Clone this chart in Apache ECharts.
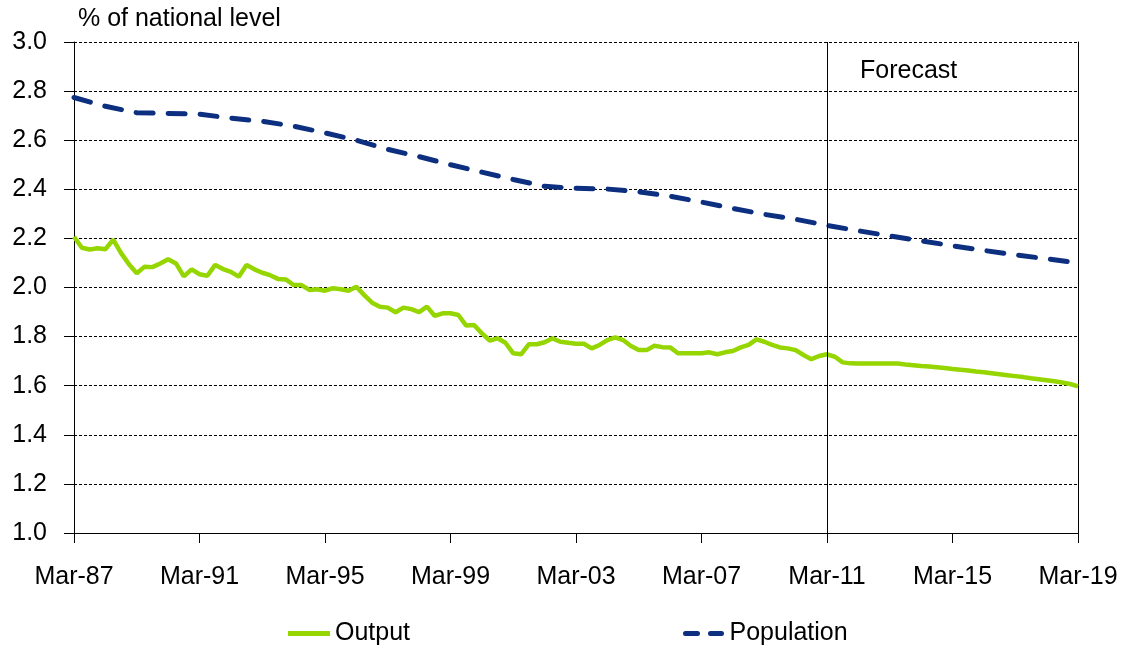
<!DOCTYPE html>
<html>
<head>
<meta charset="utf-8">
<script src="https://cdn.jsdelivr.net/npm/echarts@6/dist/echarts.min.js"></script>
<style>
  html, body { margin: 0; padding: 0; background: #fff; }
  #chart { width: 1130px; height: 648px; }
</style>
</head>
<body>
<div id="chart"></div>
<script>
// quarterly, Mar-87 .. Mar-19 (index 0..128)
var output = [
  2.207, 2.162, 2.155, 2.160, 2.156, 2.195, 2.140, 2.095, 2.058, 2.085,
  2.083, 2.098, 2.115, 2.098, 2.045, 2.074, 2.054, 2.048, 2.092, 2.075,
  2.064, 2.044, 2.092, 2.074, 2.060, 2.050, 2.035, 2.033, 2.010, 2.010,
  1.990, 1.993, 1.987, 1.997, 1.993, 1.987, 2.003, 1.969, 1.938, 1.922,
  1.918, 1.899, 1.918, 1.912, 1.900, 1.922, 1.884, 1.895, 1.895, 1.888,
  1.845, 1.847, 1.813, 1.784, 1.793, 1.775, 1.732, 1.728, 1.769, 1.769,
  1.777, 1.793, 1.779, 1.775, 1.771, 1.771, 1.752, 1.766, 1.786, 1.797,
  1.786, 1.762, 1.745, 1.745, 1.763, 1.757, 1.756, 1.732, 1.732, 1.732,
  1.732, 1.736, 1.728, 1.736, 1.741, 1.756, 1.766, 1.789, 1.779, 1.766,
  1.756, 1.752, 1.745, 1.725, 1.708, 1.721, 1.728, 1.718, 1.695, 1.691,
  1.690, 1.690, 1.690, 1.690, 1.690, 1.690, 1.686, 1.683, 1.680, 1.678,
  1.675, 1.672, 1.668, 1.665, 1.662, 1.658, 1.655, 1.651, 1.647, 1.643,
  1.639, 1.635, 1.630, 1.626, 1.622, 1.618, 1.613, 1.607, 1.597
];
// yearly (every 4th quarter), Mar-87 .. Mar-19
var population = [
  2.774, 2.738, 2.712, 2.709, 2.706, 2.690, 2.677, 2.657, 2.630, 2.600,
  2.563, 2.533, 2.500, 2.470, 2.440, 2.412, 2.404, 2.401, 2.390, 2.372,
  2.348, 2.322, 2.298, 2.278, 2.253, 2.231, 2.210, 2.190, 2.170, 2.151,
  2.133, 2.117, 2.100
];
var firstYear = 87;
var forecastStart = 96; // Mar-11
var yTicks = [1.0, 3.0, 0.2];

var chart = echarts.init(document.getElementById('chart'));
var font = 'Liberation Sans';
var fs = 25;

var outData = output.map(function (v, i) { return [i, v]; });
var popData = population.map(function (v, i) { return [i * 4, v]; });

function quarterLabel(v) {
  var y = (firstYear + v / 4) % 100;
  return 'Mar-' + (y < 10 ? '0' + y : y);
}

var option = {
  animation: false,
  backgroundColor: '#fff',
  textStyle: { fontFamily: font },
  grid: { left: 74, right: 52, top: 42, bottom: 115 },
  legend: [{
    data: [{ name: 'Output', icon: 'path://M0,0H42V5H0Z' }],
    left: 283, top: 616,
    itemWidth: 42, itemHeight: 5, itemGap: 2,
    textStyle: { fontSize: fs, color: '#000', fontFamily: font }
  }, {
    data: [{ name: 'Population', icon: 'path://M2,0H14A2,2 0 0 1 14,5H2A2,2 0 0 1 2,0Z M27,0H38A2,2 0 0 1 38,5H27A2,2 0 0 1 27,0Z' }],
    left: 678, top: 616,
    itemWidth: 42, itemHeight: 5, itemGap: 2,
    textStyle: { fontSize: fs, color: '#000', fontFamily: font }
  }],
  xAxis: {
    type: 'value',
    min: 0, max: 128, interval: 16,
    axisLine: { show: true, lineStyle: { color: '#000', width: 1 } },
    axisTick: { show: true, inside: false, length: 10, lineStyle: { color: '#000' } },
    axisLabel: { margin: 32, fontSize: fs, color: '#000', formatter: quarterLabel },
    splitLine: { show: false }
  },
  yAxis: [{
    type: 'value',
    min: yTicks[0], max: yTicks[1], interval: yTicks[2],
    name: '% of national level',
    nameLocation: 'end',
    nameGap: 10,
    nameTextStyle: { fontSize: fs, color: '#000', align: 'left', padding: [0, 0, 0, 4] },
    axisLine: { show: true, lineStyle: { color: '#000', width: 1 } },
    axisTick: { show: true, inside: false, length: 10, lineStyle: { color: '#000' } },
    axisLabel: { margin: 27, fontSize: fs, color: '#000', formatter: function (v) { return v.toFixed(1); } },
    splitLine: { show: true, lineStyle: { color: '#000', type: [3, 2], width: 1 } }
  }, {
    type: 'value',
    position: 'right',
    min: yTicks[0], max: yTicks[1], interval: yTicks[2],
    axisLine: { show: true, lineStyle: { color: '#000', width: 1 } },
    axisTick: { show: false },
    axisLabel: { show: false },
    splitLine: { show: false }
  }],
  graphic: [{
    type: 'text',
    left: 860, top: 59,
    style: { text: 'Forecast', fontSize: fs, fill: '#000', fontFamily: font }
  }],
  series: [{
    name: 'Output',
    type: 'line',
    data: outData,
    showSymbol: false,
    symbol: 'none',
    z: 3,
    lineStyle: { color: '#95d500', width: 4.5 },
    itemStyle: { color: '#95d500' },
    markLine: {
      silent: true,
      symbol: 'none',
      label: { show: false },
      lineStyle: { color: '#000', width: 1, type: 'solid' },
      data: [{ xAxis: forecastStart }]
    }
  }, {
    name: 'Population',
    type: 'line',
    data: popData,
    showSymbol: false,
    symbol: 'none',
    z: 3,
    lineStyle: { color: '#0d2f80', width: 5, type: [17, 15], cap: 'round' },
    itemStyle: { color: '#0d2f80' }
  }]
};
chart.setOption(option);
</script>
</body>
</html>
